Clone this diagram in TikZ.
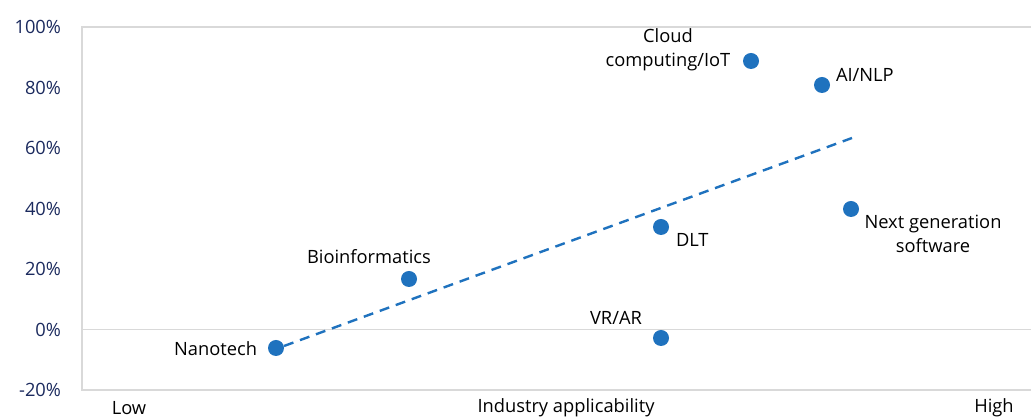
\documentclass[tikz,border=0pt]{standalone}
\usepackage{fontspec}
\setmainfont{Open Sans}
\usepackage{tikz}

\tikzset{
  pointdot/.style={circle,fill=dotColor,draw=none,minimum size=16pt,inner sep=0pt},
  ticklabel/.style={text=tickColor,anchor=east,inner sep=0pt,outer sep=0pt,font=\fontsize{18.3}{22}\selectfont},
  pointlabel/.style={text=black,inner sep=0pt,outer sep=0pt,align=center,font=\fontsize{18.3}{23.5}\selectfont},
  axislabel/.style={text=black,inner sep=0pt,outer sep=0pt,font=\fontsize{18.3}{22}\selectfont}
}

\begin{document}
\begin{tikzpicture}[x=1pt,y=1pt]
\definecolor{fillColor}{RGB}{255,255,255}
\definecolor{gridColor}{RGB}{217,217,217}
\definecolor{tickColor}{RGB}{27,42,94}
\definecolor{dotColor}{RGB}{31,114,190}
\path[use as bounding box,fill=fillColor] (0,0) rectangle (1031,419);

% plot frame and zero line
\path[draw=gridColor,line width=1.2pt] (1031,392) -- (82,392) -- (82,29) -- (1031,29);
\path[draw=gridColor,line width=1.2pt] (82,89.5) -- (1031,89.5);

% y axis labels
\node[ticklabel] (t100) at (61,392.0) {100\%};
\node[ticklabel] (t80) at (61,331.5) {80\%};
\node[ticklabel] (t60) at (61,271.0) {60\%};
\node[ticklabel] (t40) at (61,210.5) {40\%};
\node[ticklabel] (t20) at (61,150.0) {20\%};
\node[ticklabel] (t0) at (61,89.5) {0\%};
\node[ticklabel] (tm20) at (61,29.0) {-20\%};

% x axis labels
\node[axislabel] (low) at (129,11) {Low};
\node[axislabel] (xtitle) at (566,11) {Industry applicability};
\node[axislabel] (high) at (994,11) {High};

% trend line
\coordinate (trendA) at (284,73);
\coordinate (trendB) at (852,281);
\path[draw=dotColor,line width=2.4pt,dash pattern=on 10pt off 7pt] (trendA) -- (trendB);

% data points
\node[pointdot] (nano) at (276,71) {};
\node[pointdot] (bio) at (409,140) {};
\node[pointdot] (vrar) at (661,81) {};
\node[pointdot] (dlt) at (661,192) {};
\node[pointdot] (cloud) at (751,358) {};
\node[pointdot] (ainlp) at (822,334) {};
\node[pointdot] (nextgen) at (851,210) {};

% point labels
\node[pointlabel,anchor=east] (nanoL) at (257,70) {Nanotech};
\node[pointlabel] (bioL) at (369,162) {Bioinformatics};
\node[pointlabel] (vrarL) at (616,101) {VR/AR};
\node[pointlabel,anchor=west] (dltL) at (676,179) {DLT};
\node[pointlabel] (cloudL) at (668,369) {Cloud\\computing/IoT};
\node[pointlabel,anchor=west] (ainlpL) at (836,344) {AI/NLP};
\node[pointlabel] (nextgenL) at (933,185) {Next generation\\software};
\end{tikzpicture}
\end{document}
